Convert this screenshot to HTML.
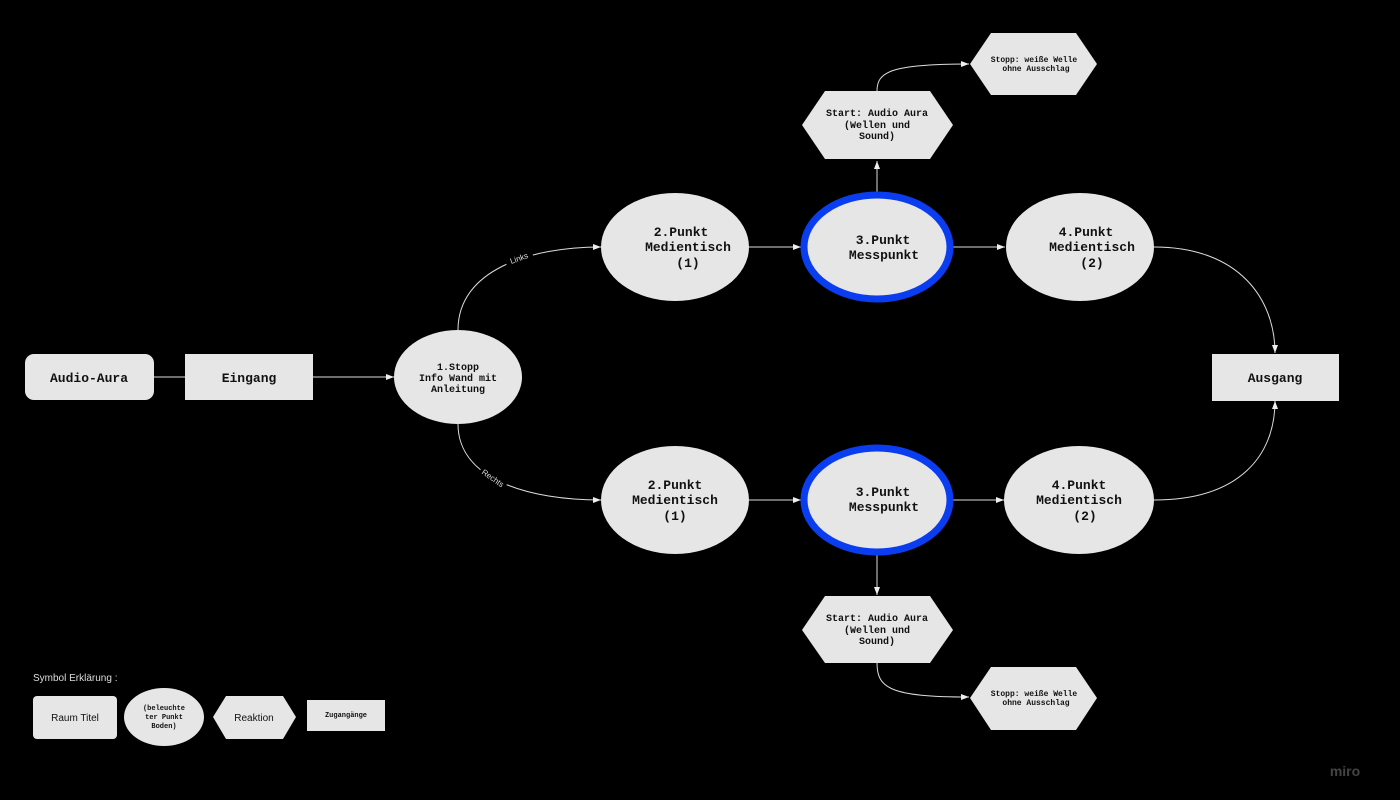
<!DOCTYPE html>
<html><head><meta charset="utf-8"><style>
html,body{margin:0;padding:0;background:#000;}
svg{display:block}
.m{font-family:"Liberation Mono",monospace;font-weight:bold;fill:#111;text-anchor:middle}
.s{font-family:"Liberation Sans",sans-serif;fill:#111;text-anchor:middle}
</style></head><body>
<svg width="1400" height="800" viewBox="0 0 1400 800" xmlns="http://www.w3.org/2000/svg">
<defs><marker id="a" markerWidth="8" markerHeight="6" refX="8" refY="3" orient="auto" markerUnits="userSpaceOnUse"><path d="M0,0 L8,3 L0,6z" fill="#eee"/></marker></defs>
<rect width="1400" height="800" fill="#000"/>
<g stroke="#ddd" stroke-width="1" fill="none">
<line x1="154" y1="377" x2="185" y2="377"/>
<line x1="313" y1="377" x2="394" y2="377" marker-end="url(#a)"/>
<path d="M458,330 C458,270 530,247 601,247" marker-end="url(#a)"/>
<path d="M458,424 C458,480 530,500 601,500" marker-end="url(#a)"/>
<line x1="749" y1="247" x2="801" y2="247" marker-end="url(#a)"/>
<line x1="749" y1="500" x2="801" y2="500" marker-end="url(#a)"/>
<line x1="953" y1="247" x2="1005" y2="247" marker-end="url(#a)"/>
<line x1="953" y1="500" x2="1004" y2="500" marker-end="url(#a)"/>
<path d="M1154,247 C1240,247 1275,300 1275,353" marker-end="url(#a)"/>
<path d="M1154,500 C1240,500 1275,455 1275,401" marker-end="url(#a)"/>
<line x1="877" y1="193" x2="877" y2="161" marker-end="url(#a)"/>
<line x1="877" y1="555" x2="877" y2="595" marker-end="url(#a)"/>
<path d="M877,91 C877,72 890,64 969,64" marker-end="url(#a)"/>
<path d="M877,663 C877,688 890,697 969,697" marker-end="url(#a)"/>
</g>
<rect x="505" y="252" width="28" height="12" fill="#000" transform="rotate(-20 519 258)"/>
<text x="519" y="261" font-family="Liberation Sans,sans-serif" font-size="8" fill="#ddd" text-anchor="middle" transform="rotate(-20 519 258)">Links</text>
<rect x="478" y="472" width="30" height="12" fill="#000" transform="rotate(35 493 478)"/>
<text x="493" y="481" font-family="Liberation Sans,sans-serif" font-size="8" fill="#ddd" text-anchor="middle" transform="rotate(35 493 478)">Rechts</text>
<g fill="#e6e6e6">
<rect x="25" y="354" width="129" height="46" rx="9"/>
<rect x="185" y="354" width="128" height="46"/>
<ellipse cx="458" cy="377" rx="64" ry="47"/>
<ellipse cx="675" cy="247" rx="74" ry="54"/>
<ellipse cx="675" cy="500" rx="74" ry="54"/>
<ellipse cx="877" cy="247" rx="73" ry="52" stroke="#0a3cf0" stroke-width="7"/>
<ellipse cx="877" cy="500" rx="73" ry="52" stroke="#0a3cf0" stroke-width="7"/>
<ellipse cx="1080" cy="247" rx="74" ry="54"/>
<ellipse cx="1079" cy="500" rx="75" ry="54"/>
<rect x="1212" y="354" width="127" height="47"/>
<polygon points="802,125 825,91 930,91 953,125 930,159 825,159"/>
<polygon points="970,64 991,33 1076,33 1097,64 1076,95 991,95"/>
<polygon points="802,630 825,596 930,596 953,630 930,663 825,663"/>
<polygon points="970,698 991,667 1076,667 1097,698 1076,730 991,730"/>
<rect x="33" y="696" width="84" height="43" rx="4"/>
<ellipse cx="164" cy="717" rx="40" ry="29"/>
<polygon points="213,717 226,696 283,696 296,717 283,739 226,739"/>
<rect x="307" y="700" width="78" height="31"/>
</g>
<text class="m" x="89" y="382" font-size="13" font-weight="normal">Audio-Aura</text>
<text class="m" x="249" y="382" font-size="13" font-weight="normal">Eingang</text>
<text class="m" x="1275" y="382" font-size="13" font-weight="normal">Ausgang</text>
<text class="m" font-size="10"><tspan x="458" y="370">1.Stopp</tspan><tspan x="458" y="381">Info Wand mit</tspan><tspan x="458" y="392">Anleitung</tspan></text>
<text class="m" font-size="13"><tspan x="681" y="236">2.Punkt</tspan><tspan x="688" y="251">Medientisch</tspan><tspan x="688" y="267">(1)</tspan></text>
<text class="m" font-size="13"><tspan x="675" y="489">2.Punkt</tspan><tspan x="675" y="504">Medientisch</tspan><tspan x="675" y="520">(1)</tspan></text>
<text class="m" font-size="13"><tspan x="883" y="244">3.Punkt</tspan><tspan x="884" y="259">Messpunkt</tspan></text>
<text class="m" font-size="13"><tspan x="883" y="496">3.Punkt</tspan><tspan x="884" y="511">Messpunkt</tspan></text>
<text class="m" font-size="13"><tspan x="1086" y="236">4.Punkt</tspan><tspan x="1092" y="251">Medientisch</tspan><tspan x="1092" y="267">(2)</tspan></text>
<text class="m" font-size="13"><tspan x="1079" y="489">4.Punkt</tspan><tspan x="1079" y="504">Medientisch</tspan><tspan x="1085" y="520">(2)</tspan></text>
<text class="m" font-size="10" font-weight="normal"><tspan x="877" y="116">Start: Audio Aura</tspan><tspan x="877" y="128">(Wellen und</tspan><tspan x="877" y="139">Sound)</tspan></text>
<text class="m" font-size="10" font-weight="normal"><tspan x="877" y="621">Start: Audio Aura</tspan><tspan x="877" y="633">(Wellen und</tspan><tspan x="877" y="644">Sound)</tspan></text>
<text class="m" font-size="8"><tspan x="1034" y="62">Stopp: weiße Welle</tspan><tspan x="1036" y="71">ohne Ausschlag</tspan></text>
<text class="m" font-size="8"><tspan x="1034" y="696">Stopp: weiße Welle</tspan><tspan x="1036" y="705">ohne Ausschlag</tspan></text>
<text x="33" y="681" font-family="Liberation Sans,sans-serif" font-size="10" fill="#ddd">Symbol Erklärung :</text>
<text class="s" x="75" y="721" font-size="10">Raum Titel</text>
<text class="m" font-size="7" font-weight="normal"><tspan x="164" y="710">(beleuchte</tspan><tspan x="164" y="719">ter Punkt</tspan><tspan x="164" y="728">Boden)</tspan></text>
<text class="s" x="254" y="721" font-size="10">Reaktion</text>
<text class="m" x="346" y="717" font-size="7">Zugangänge</text>
<text x="1345" y="776" font-family="Liberation Sans,sans-serif" font-size="14" font-weight="bold" fill="#444" text-anchor="middle">miro</text>
</svg>
</body></html>
